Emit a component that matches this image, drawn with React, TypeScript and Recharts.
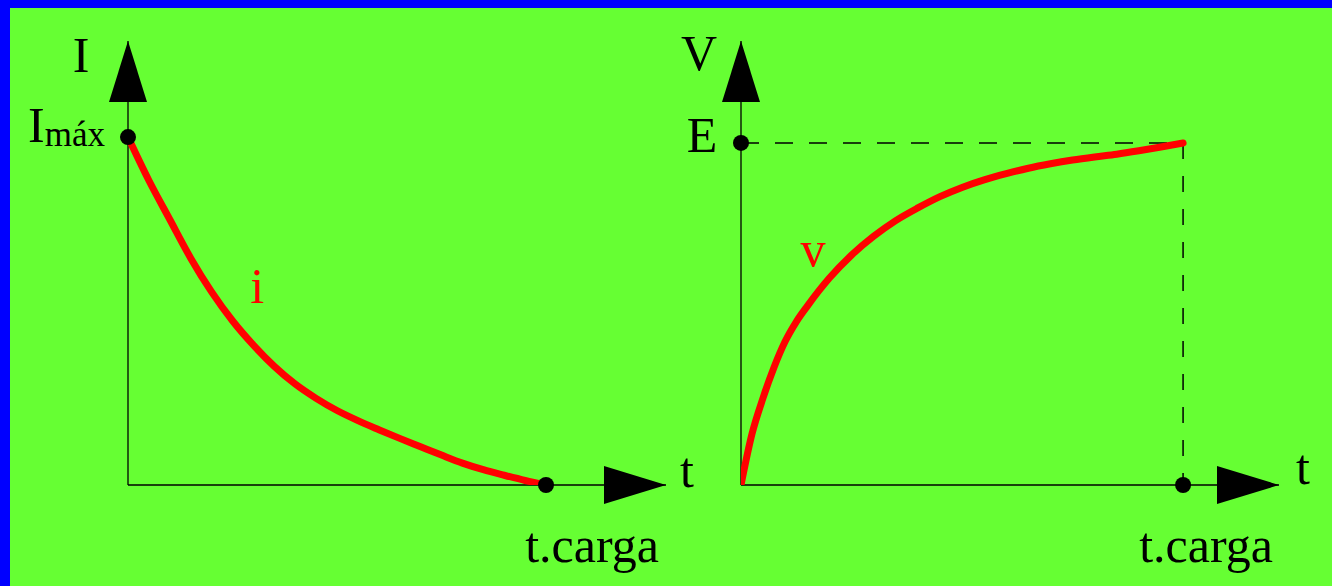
import { LineChart, Line, XAxis, YAxis, ReferenceLine, ReferenceDot } from 'recharts';

// current while charging: i falls from I max to 0 at t.carga (t = 10)
const currentTimes = [0, 0.5, 1, 1.5, 2, 2.5, 3, 3.5, 4, 4.5, 5, 5.5, 6, 6.5, 7, 7.5, 8, 8.5, 9, 9.5, 10];
const currentValues = [
  1, 0.875, 0.763, 0.652, 0.555, 0.472, 0.402, 0.341, 0.29, 0.249, 0.214,
  0.185, 0.159, 0.134, 0.11, 0.086, 0.063, 0.044, 0.028, 0.013, 0,
];

// capacitor voltage: v rises from 0 up to E at t.carga
const voltageTimes = [0, 0.25, 0.5, 0.75, 1, 1.25, 1.5, 2, 2.5, 3, 3.5, 4, 4.5, 5, 5.5, 6, 6.5, 7, 7.5, 8, 8.5, 9, 9.5, 10];
const voltageValues = [
  0, 0.15, 0.255, 0.345, 0.42, 0.477, 0.523, 0.605, 0.672, 0.727, 0.773, 0.81, 0.843,
  0.87, 0.892, 0.91, 0.926, 0.939, 0.95, 0.959, 0.967, 0.977, 0.988, 1,
];

const currentData = currentTimes.map((t, k) => ({ t, i: currentValues[k] }));
const voltageData = voltageTimes.map((t, k) => ({ t, v: voltageValues[k] }));

const FONT = "'Liberation Serif', 'Times New Roman', 'DejaVu Serif', serif";
const GREEN = '#66ff33';

const textShape =
  (text: string, dx: number, dy: number, color = '#000', anchor = 'middle') =>
  (p: any) =>
    (
      <text
        x={p.cx + dx}
        y={p.cy + dy}
        fill={color}
        textAnchor={anchor}
        style={{ fontFamily: FONT, fontSize: 50 }}
      >
        {text}
      </text>
    );

const upArrow = (p: any) => (
  <polygon points={`${p.cx},${p.cy} ${p.cx - 19},${p.cy + 61} ${p.cx + 19},${p.cy + 61}`} fill="#000" />
);
const rightArrow = (p: any) => (
  <polygon points={`${p.cx},${p.cy} ${p.cx - 62},${p.cy - 19} ${p.cx - 62},${p.cy + 19}`} fill="#000" />
);
const imaxShape = (p: any) => (
  <text x={p.cx - 100} y={p.cy + 5} fill="#000" textAnchor="start" style={{ fontFamily: FONT }}>
    <tspan style={{ fontSize: 50 }}>I</tspan>
    <tspan style={{ fontSize: 35 }} dy={4}>máx</tspan>
  </text>
);

function CurrentChart() {
  const xMax = 12.87;
  const yMax = 1.276;
  return (
    <LineChart width={720} height={586} data={currentData} margin={{ top: 41, right: 54, bottom: 101, left: 128 }}>
      <XAxis dataKey="t" type="number" domain={[0, xMax]} allowDataOverflow hide />
      <YAxis type="number" domain={[0, yMax]} allowDataOverflow hide />
      <ReferenceLine y={0} stroke="#000" strokeWidth={1.3} />
      <ReferenceLine x={0} stroke="#000" strokeWidth={1.3} />
      <Line
        dataKey="i"
        type="monotone"
        stroke="#ff0000"
        strokeWidth={7}
        strokeLinecap="round"
        dot={false}
        isAnimationActive={false}
      />
      <ReferenceDot x={0} y={yMax} r={0} shape={upArrow} />
      <ReferenceDot x={xMax} y={0} r={0} shape={rightArrow} />
      <ReferenceDot x={0} y={1} r={8} fill="#000" stroke="none" />
      <ReferenceDot x={10} y={0} r={8} fill="#000" stroke="none" />
      <ReferenceDot x={0} y={yMax} r={0} shape={textShape('I', -47, 31)} />
      <ReferenceDot x={0} y={1} r={0} shape={imaxShape} />
      <ReferenceDot x={3.09} y={0.523} r={0} shape={textShape('i', 0, 0, '#ff0000')} />
      <ReferenceDot x={xMax} y={0} r={0} shape={textShape('t', 14, 2, '#000', 'start')} />
      <ReferenceDot x={10} y={0} r={0} shape={textShape('t.carga', 46, 77)} />
    </LineChart>
  );
}

function VoltageChart() {
  const xMax = 12.17;
  const yMax = 1.298;
  return (
    <LineChart width={652} height={586} data={voltageData} margin={{ top: 41, right: 53, bottom: 101, left: 61 }}>
      <XAxis dataKey="t" type="number" domain={[0, xMax]} allowDataOverflow hide />
      <YAxis type="number" domain={[0, yMax]} allowDataOverflow hide />
      <ReferenceLine y={0} stroke="#000" strokeWidth={1.3} />
      <ReferenceLine x={0} stroke="#000" strokeWidth={1.3} />
      <ReferenceLine
        segment={[{ x: 0, y: 1 }, { x: 10, y: 1 }]}
        stroke="#000"
        strokeWidth={1.5}
        strokeDasharray="18 16"
      />
      <ReferenceLine
        segment={[{ x: 10, y: 1 }, { x: 10, y: 0 }]}
        stroke="#000"
        strokeWidth={1.5}
        strokeDasharray="16 17"
      />
      <Line
        dataKey="v"
        type="monotone"
        stroke="#ff0000"
        strokeWidth={7}
        strokeLinecap="round"
        dot={false}
        isAnimationActive={false}
      />
      <ReferenceDot x={0} y={yMax} r={0} shape={upArrow} />
      <ReferenceDot x={xMax} y={0} r={0} shape={rightArrow} />
      <ReferenceDot x={0} y={1} r={8} fill="#000" stroke="none" />
      <ReferenceDot x={10} y={0} r={8} fill="#000" stroke="none" />
      <ReferenceDot x={0} y={yMax} r={0} shape={textShape('V', -42, 29)} />
      <ReferenceDot x={0} y={1} r={0} shape={textShape('E', -39, 9)} />
      <ReferenceDot x={1.63} y={0.64} r={0} shape={textShape('v', 0, 0, '#ff0000')} />
      <ReferenceDot x={xMax} y={0} r={0} shape={textShape('t', 17, -1, '#000', 'start')} />
      <ReferenceDot x={10} y={0} r={0} shape={textShape('t.carga', 23, 77)} />
    </LineChart>
  );
}

export default function App() {
  return (
    <div style={{ position: 'absolute', left: 0, top: 0, width: 1332, height: 586, background: '#0000ff', overflow: 'hidden' }}>
      <div style={{ position: 'absolute', left: 10, top: 8, right: 0, bottom: 0, background: GREEN }} />
      <div style={{ position: 'absolute', left: 0, top: 0 }}>
        <CurrentChart />
      </div>
      <div style={{ position: 'absolute', left: 680, top: 0 }}>
        <VoltageChart />
      </div>
    </div>
  );
}
